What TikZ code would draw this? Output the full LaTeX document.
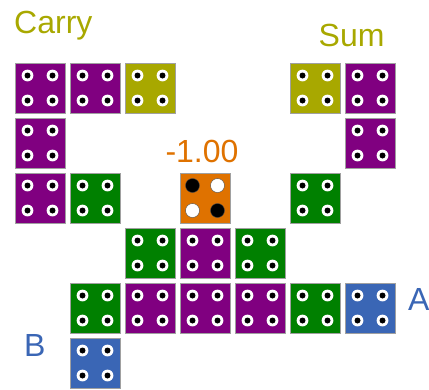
\documentclass[tikz,border=0pt]{standalone}
\usepackage{fontspec}
\setmainfont{Liberation Sans}
\definecolor{cpurple}{HTML}{800080}
\definecolor{colive}{HTML}{A8A800}
\definecolor{cgreen}{HTML}{008000}
\definecolor{cblue}{HTML}{3A66B5}
\definecolor{corange}{HTML}{DF7200}
\definecolor{cborder}{HTML}{A0A0A0}
\tikzset{
  cellbox/.style={draw=cborder, line width=0.9pt, fill=#1, minimum size=50pt, inner sep=0pt, outer sep=0pt},
  ring/.style={fill=white},
  pin/.style={fill=black},
  lbl/.style={font=\fontsize{32}{32}\selectfont, inner sep=0pt, anchor=base west}
}
\newcommand\dotcell[4]{%
  \node[cellbox=#4] (#1) at ({40+55*#2},{88+55*#3}) {};
  \foreach \dx in {-12.5,12.5}{\foreach \dy in {-12.5,12.5}{%
    \fill[ring] ([shift={(\dx,\dy)}]#1.center) circle (5.9);
    \fill[pin] ([shift={(\dx,\dy)}]#1.center) circle (3);
  }}%
}
\begin{document}
\begin{tikzpicture}[x=1pt,y=-1pt]
\useasboundingbox (0,0) rectangle (429,389);
% row 0
\dotcell{c00}{0}{0}{cpurple}
\dotcell{c10}{1}{0}{cpurple}
\dotcell{c20}{2}{0}{colive}
\dotcell{c50}{5}{0}{colive}
\dotcell{c60}{6}{0}{cpurple}
% row 1
\dotcell{c01}{0}{1}{cpurple}
\dotcell{c61}{6}{1}{cpurple}
% row 2
\dotcell{c02}{0}{2}{cpurple}
\dotcell{c12}{1}{2}{cgreen}
\dotcell{c52}{5}{2}{cgreen}
% row 3
\dotcell{c23}{2}{3}{cgreen}
\dotcell{c33}{3}{3}{cpurple}
\dotcell{c43}{4}{3}{cgreen}
% row 4
\dotcell{c14}{1}{4}{cgreen}
\dotcell{c24}{2}{4}{cpurple}
\dotcell{c34}{3}{4}{cpurple}
\dotcell{c44}{4}{4}{cpurple}
\dotcell{c54}{5}{4}{cgreen}
\dotcell{c64}{6}{4}{cblue}
% row 5
\dotcell{c15}{1}{5}{cblue}
% orange cell
\node[cellbox=corange] (c32) at (205,198) {};
\filldraw[fill=black, draw=black!70, line width=0.4pt] ([shift={(-12.5,-12.5)}]c32.center) circle (7);
\filldraw[fill=white, draw=black!70, line width=0.4pt] ([shift={(12.5,-12.5)}]c32.center) circle (7);
\filldraw[fill=white, draw=black!70, line width=0.4pt] ([shift={(-12.5,12.5)}]c32.center) circle (7);
\filldraw[fill=black, draw=black!70, line width=0.4pt] ([shift={(12.5,12.5)}]c32.center) circle (7);
% labels
\node[lbl, text=colive] (carry) at (14,33.3) {Carry};
\node[lbl, text=colive] (sum) at (318.5,46) {Sum};
\node[lbl, text=corange, anchor=base] (val) at (202,162) {-1.00};
\node[lbl, text=cblue] (la) at (408,310) {A};
\node[lbl, text=cblue] (lb) at (24,356.5) {B};
\end{tikzpicture}
\end{document}
